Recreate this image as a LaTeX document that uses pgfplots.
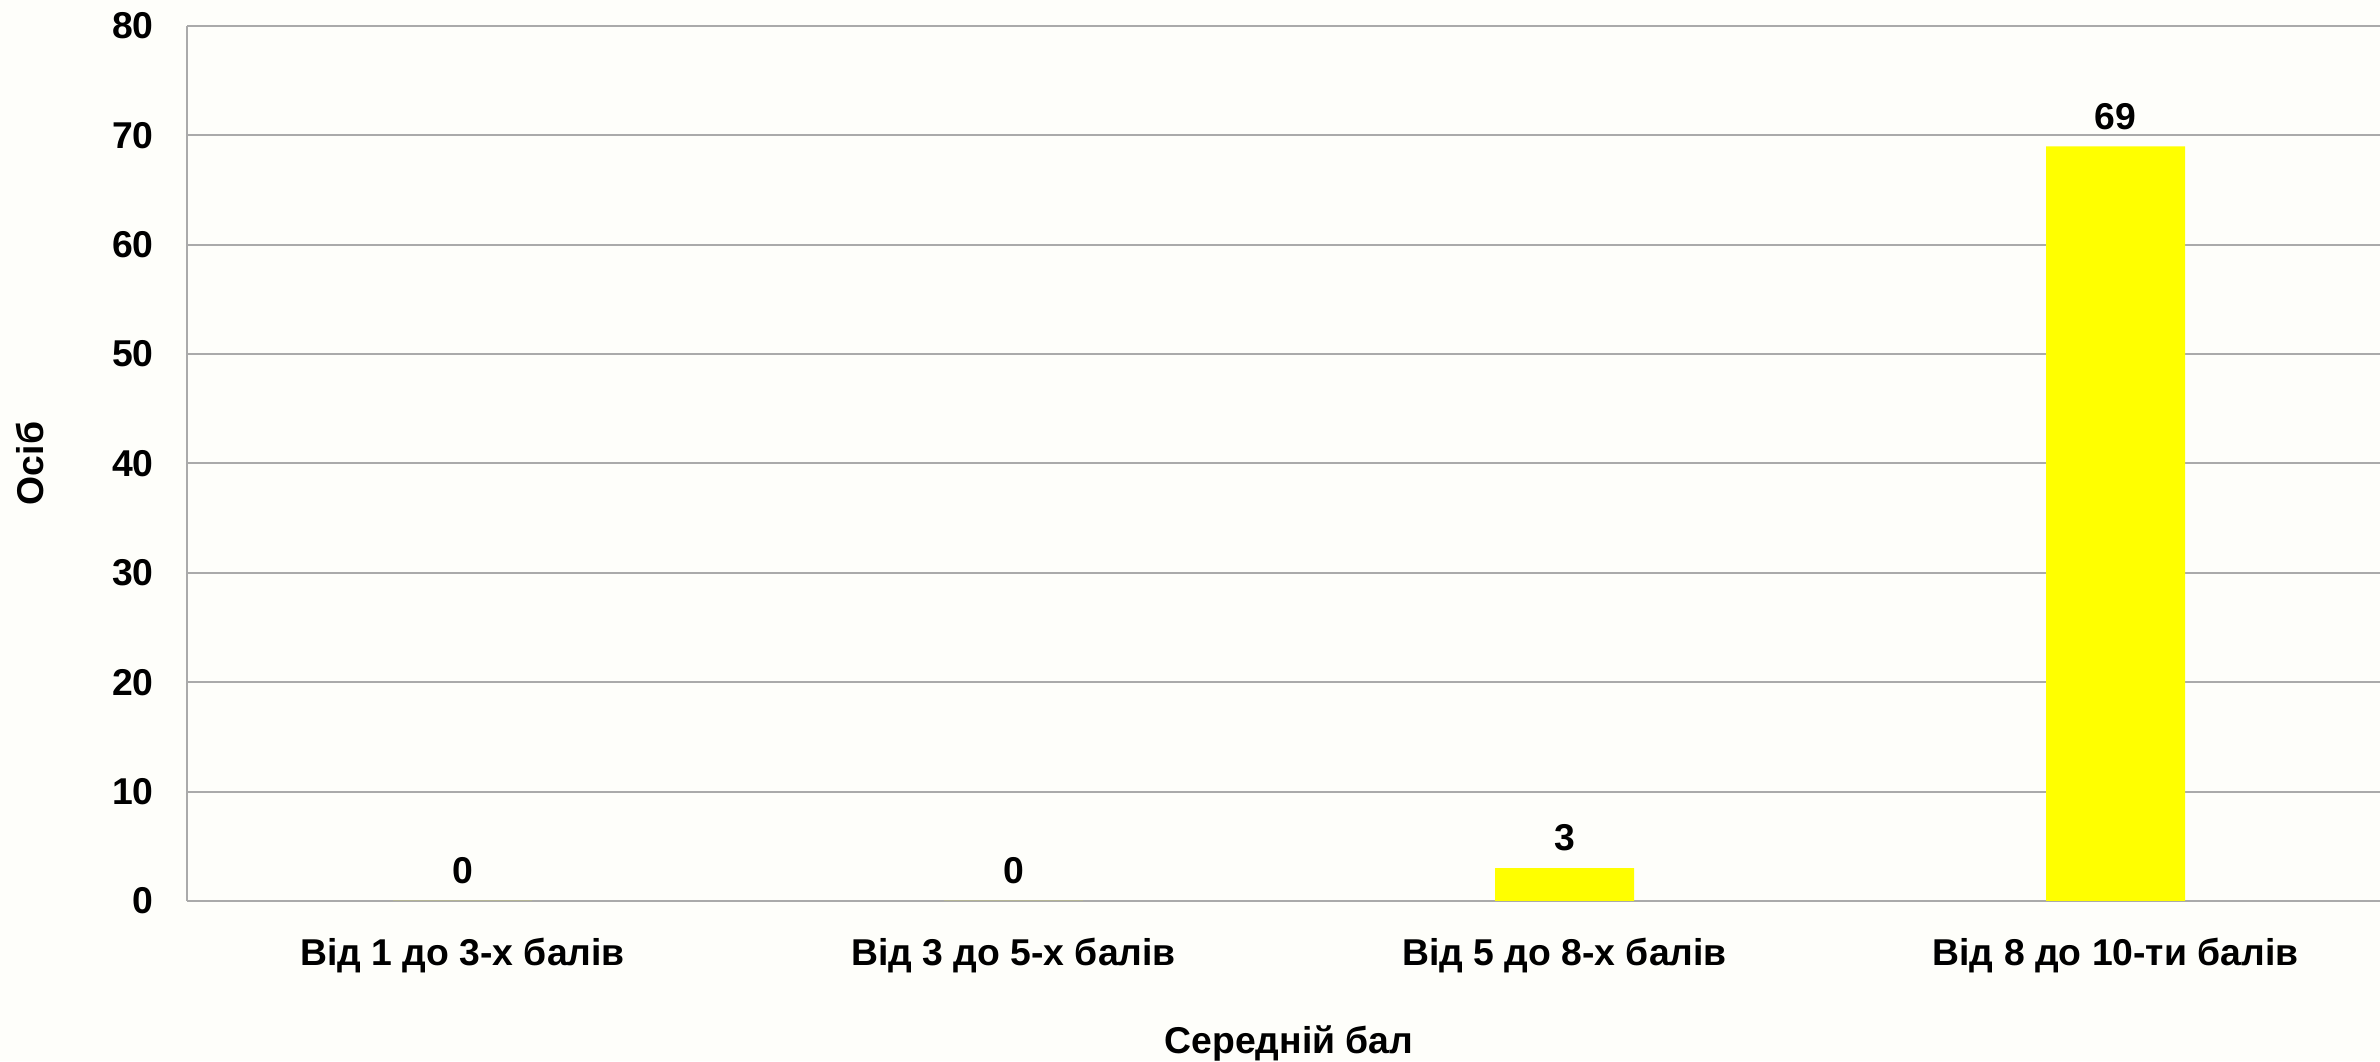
\documentclass[border=0pt]{standalone}
\usepackage{pgfplots}
\pgfplotsset{compat=1.18}
\usepackage{fontspec}
\setmainfont{Liberation Sans}
\begin{document}
\begin{tikzpicture}
\definecolor{bgcol}{RGB}{254,254,250}
\definecolor{gridgray}{RGB}{170,170,170}
\definecolor{baryellow}{RGB}{255,255,0}
\fill[bgcol] (0,0) rectangle (714pt,318.3pt);
\useasboundingbox (0,0) rectangle (714pt,318.3pt);
\begin{axis}[
    at={(56.1pt,48pt)}, anchor=south west,
    scale only axis,
    width=657.9pt, height=262.5pt,
    font=\fontsize{11.2}{13}\selectfont\bfseries,
    axis lines*=left,
    axis line style={gridgray, line width=0.6pt},
    ymajorgrids,
    y grid style={gridgray, line width=0.6pt},
    tick style={draw=none},
    xmin=-0.5, xmax=3.48,
    ymin=0, ymax=80,
    ytick={0,10,...,80},
    xtick={0,1,2,3},
    xticklabels={Від 1 до 3-х балів, Від 3 до 5-х балів, Від 5 до 8-х балів, Від 8 до 10-ти балів},
    xticklabel style={yshift=-7.5pt},
    yticklabel style={xshift=-6.5pt},
    /pgf/number format/assume math mode=true,
    xlabel={Середній бал},
    xlabel style={at={(axis description cs:0.5025,-0.1623)}, anchor=center},
    ylabel={Осіб},
    ylabel style={at={(axis description cs:-0.0716,0.5)}, anchor=center},
    ]
    \addplot [ybar, bar width=41.7pt, fill=baryellow, draw=none,
        nodes near coords,
        every node near coord/.append style={font=\fontsize{11.2}{13}\selectfont\bfseries, yshift=1.5pt}]
    coordinates {(0,0) (1,0) (2,3) (3,69)};
\end{axis}
\end{tikzpicture}
\end{document}
